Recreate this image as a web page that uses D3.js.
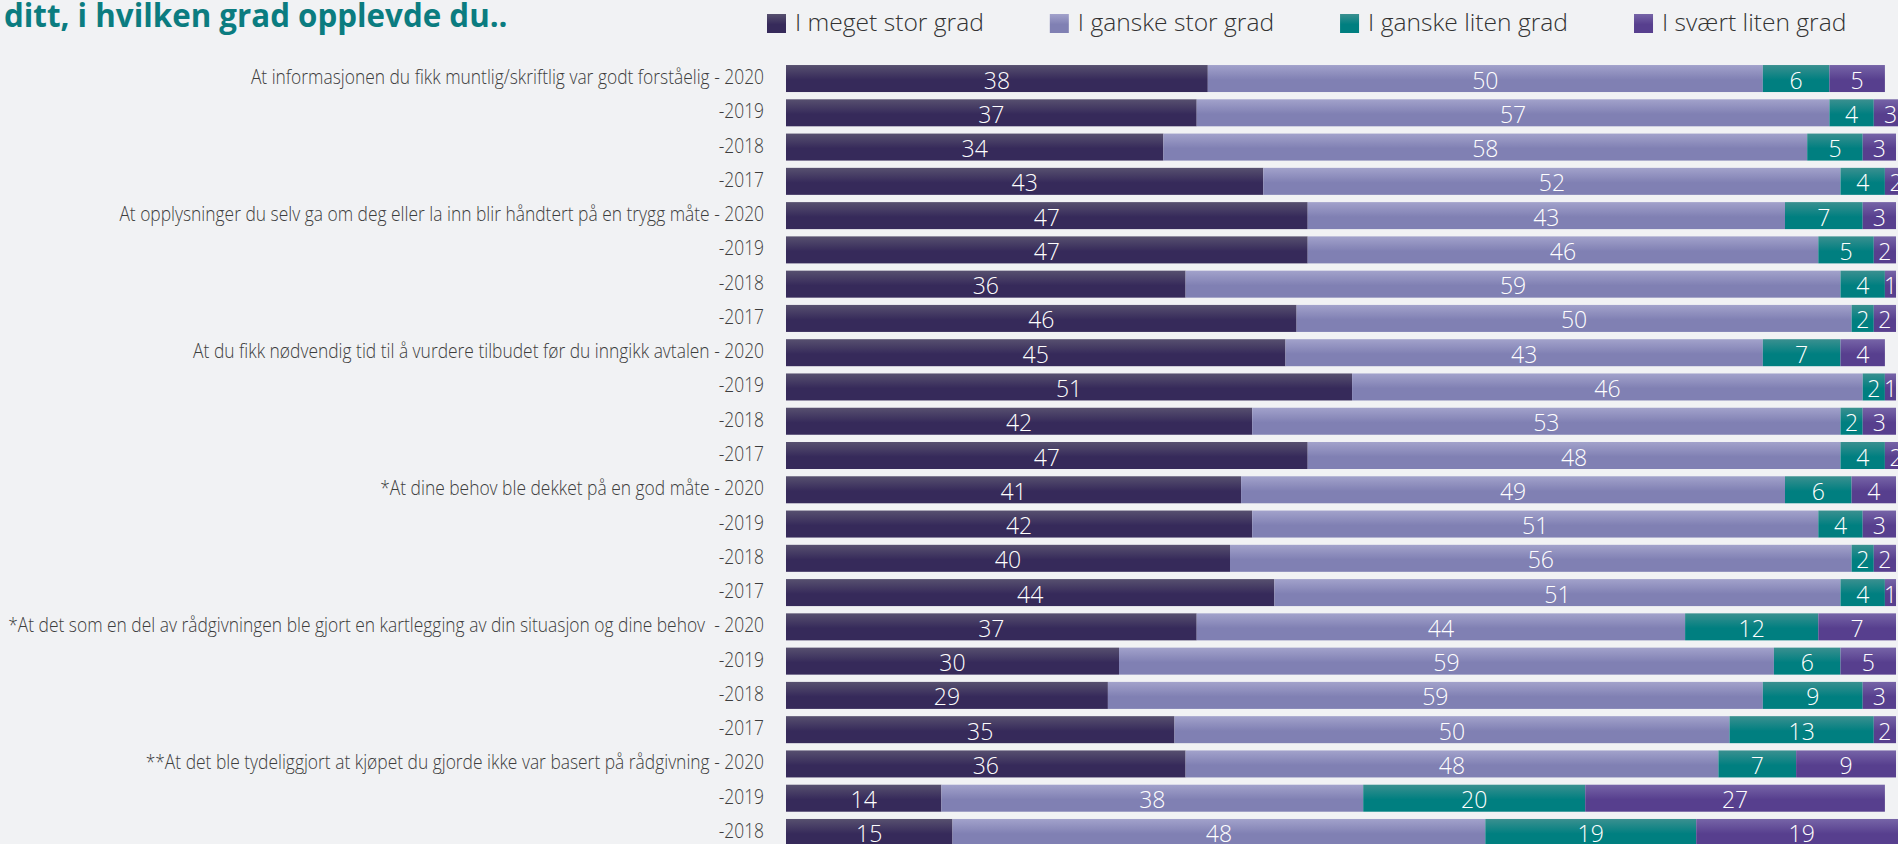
<!DOCTYPE html>
<html>
<head>
<meta charset="utf-8">
<script src="https://cdn.jsdelivr.net/npm/d3@7"></script>
<style>
  html, body { margin: 0; padding: 0; background: #f1f2f4; overflow: hidden; }
  svg { display: block; }
  text { font-family: "Open Sans", "Noto Sans", sans-serif; }
</style>
</head>
<body>
<svg id="chart" width="1898" height="844"></svg>
<script>
// ---------- DATA ----------
const titleText = "ditt, i hvilken grad opplevde du..";
const seriesNames = ["I meget stor grad", "I ganske stor grad", "I ganske liten grad", "I svært liten grad"];
const rowLabels = [
  "At informasjonen du fikk muntlig/skriftlig var godt forståelig - 2020",
  "-2019", "-2018", "-2017",
  "At opplysninger du selv ga om deg eller la inn blir håndtert på en trygg måte - 2020",
  "-2019", "-2018", "-2017",
  "At du fikk nødvendig tid til å vurdere tilbudet før du inngikk avtalen - 2020",
  "-2019", "-2018", "-2017",
  "*At dine behov ble dekket på en god måte - 2020",
  "-2019", "-2018", "-2017",
  "*At det som en del av rådgivningen ble gjort en kartlegging av din situasjon og dine behov  - 2020",
  "-2019", "-2018", "-2017",
  "**At det ble tydeliggjort at kjøpet du gjorde ikke var basert på rådgivning - 2020",
  "-2019", "-2018"
];
const meget_stor = [38, 37, 34, 43, 47, 47, 36, 46, 45, 51, 42, 47, 41, 42, 40, 44, 37, 30, 29, 35, 36, 14, 15];
const ganske_stor = [50, 57, 58, 52, 43, 46, 59, 50, 43, 46, 53, 48, 49, 51, 56, 51, 44, 59, 59, 50, 48, 38, 48];
const ganske_liten = [6, 4, 5, 4, 7, 5, 4, 2, 7, 2, 2, 4, 6, 4, 2, 4, 12, 6, 9, 13, 7, 20, 19];
const svaert_liten = [5, 3, 3, 2, 3, 2, 1, 2, 4, 1, 3, 2, 4, 3, 2, 1, 7, 5, 3, 2, 9, 27, 19];
const seriesValues = [meget_stor, ganske_stor, ganske_liten, svaert_liten];

// ---------- STYLE ----------
const gradStops = [
  ["#57506f", "#362a5a"],
  ["#a2a2cb", "#8080b3"],
  ["#3a9090", "#007f80"],
  ["#7664a7", "#573f8e"]
];

const svg = d3.select("#chart");
const defs = svg.append("defs");
gradStops.forEach((c, i) => {
  const g = defs.append("linearGradient").attr("id", "g" + i)
    .attr("x1", 0).attr("y1", 0).attr("x2", 0).attr("y2", 1);
  g.append("stop").attr("offset", "0%").attr("stop-color", c[0]);
  g.append("stop").attr("offset", "55%").attr("stop-color", c[1]);
  g.append("stop").attr("offset", "100%").attr("stop-color", c[1]);
});

// rows data
const rows = rowLabels.map((lab, i) => {
  let acc = 0;
  const segs = seriesValues.map((arr, s) => {
    const v = arr[i];
    const seg = { s, v, x0: acc, x1: acc + v };
    acc += v;
    return seg;
  });
  return { i, lab, segs };
});

const x = d3.scaleLinear().domain([0, 100]).range([786, 1896]);
const y = d3.scaleBand().domain(d3.range(rowLabels.length))
  .range([61.4, 61.4 + 34.27 * rowLabels.length])
  .paddingInner(0.212).paddingOuter(0.106);

// title
svg.append("text")
  .attr("x", 4).attr("y", 27)
  .attr("fill", "#0b7c80")
  .attr("font-size", 31.3)
  .attr("font-weight", 700)
  .text(titleText);

// legend
const legend = svg.append("g");
let lx = 767;
seriesNames.forEach((name, i) => {
  legend.append("rect").attr("x", lx).attr("y", 14).attr("width", 19).attr("height", 19)
    .attr("fill", `url(#g${i})`);
  const t = legend.append("text").attr("x", lx + 28).attr("y", 31)
    .attr("fill", "#333")
    .attr("font-size", 24.6).attr("font-weight", 300)
    .text(name);
  lx = lx + 28 + t.node().getComputedTextLength() + 66;
});

// row labels
const labScale = 0.893;
svg.append("g").selectAll("text").data(rows).join("text")
  .attr("transform", d => `translate(764,${y(d.i) + 19}) scale(${labScale},1)`)
  .attr("text-anchor", "end")
  .attr("fill", "#3d3d3d")
  .attr("font-size", 19.5).attr("font-weight", 300)
  .style("white-space", "pre")
  .text(d => d.lab);

// bars
const rowG = svg.append("g").selectAll("g").data(rows).join("g")
  .attr("transform", d => `translate(0,${y(d.i)})`);

rowG.selectAll("rect").data(d => d.segs).join("rect")
  .attr("x", d => x(d.x0))
  .attr("width", d => x(d.x1) - x(d.x0))
  .attr("y", 0).attr("height", y.bandwidth())
  .attr("fill", d => `url(#g${d.s})`);

rowG.selectAll("text").data(d => d.segs).join("text")
  .attr("x", d => (x(d.x0) + x(d.x1)) / 2)
  .attr("y", 23.5)
  .attr("text-anchor", "middle")
  .attr("fill", "#ffffff")
  .attr("font-size", 23).attr("font-weight", 300)
  .text(d => d.v);
</script>
</body>
</html>
